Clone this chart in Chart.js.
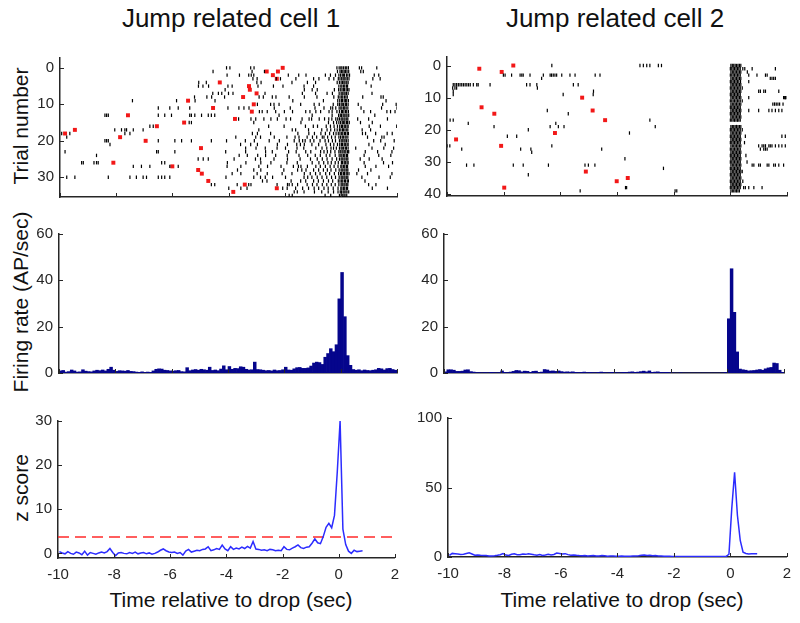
<!DOCTYPE html>
<html>
<head>
<meta charset="utf-8">
<script src="https://cdn.jsdelivr.net/npm/chart.js@4.4.1/dist/chart.umd.min.js"></script>
<style>
  body { margin: 0; background: #fff; width: 800px; height: 623px; overflow: hidden; position: relative;
         font-family: "Liberation Sans", Arial, sans-serif; }
  canvas { position: absolute; }
  .lbl { position: absolute; white-space: nowrap; color: #111; line-height: 1; }
  .ttl { font-size: 26px; top: 5px; transform: translateX(-50%); }
  .xl { font-size: 21px; top: 589px; transform: translateX(-50%); }
  .yl { font-size: 21px; left: 20px; transform: translate(-50%, -50%) rotate(-90deg); }
</style>
</head>
<body>
<div class="lbl ttl" style="left:231px">Jump related cell 1</div>
<div class="lbl ttl" style="left:615px">Jump related cell 2</div>
<div class="lbl yl" style="top:126px">Trial number</div>
<div class="lbl yl" style="top:302px">Firing rate (AP/sec)</div>
<div class="lbl yl" style="top:488px">z score</div>
<div class="lbl xl" style="left:231px">Time relative to drop (sec)</div>
<div class="lbl xl" style="left:622px">Time relative to drop (sec)</div>
<script>
// --- shared axis ticks
const xTicks = [-10, -8, -6, -4, -2, 0, 2];
const trialTicks1 = [0, 10, 20, 30];
const trialTicks2 = [0, 10, 20, 30, 40];
const rateTicks = [0, 20, 40, 60];
const zTicks1 = [0, 10, 20, 30];
const zTicks2 = [0, 50, 100];

// --- raster, cell 1: spike times (sec) per trial
const cell1Trials = [
  [-4.07,-3.95,-3.21,-3.09,-0.14,-0.06,0.0,0.04,0.1,0.16,0.21,0.27,0.66,0.74,1.28],
  [-4.55,-3.16,-2.72,-0.12,-0.03,0.02,0.07,0.12,0.17,0.22,0.28,0.71,0.8],
  [-4.05,-3.61,-3.28,-3.19,-3.1,-1.87,-1.5,-1.24,-0.55,-0.37,-0.19,-0.07,-0.01,0.05,0.09,0.13,0.2,0.25,0.31,1.19,1.35],
  [-3.13,-2.98,-2.3,-2.15,-1.6,-0.97,-0.78,-0.42,-0.25,-0.09,-0.03,0.03,0.08,0.12,0.18,0.23,0.29,1.14,1.4],
  [-5.06,-4.79,-2.99,-2.84,-1.74,-1.19,-0.9,-0.13,-0.05,0.01,0.06,0.11,0.15,0.21,0.26,0.9],
  [-5.07,-4.91,-4.71,-4.02,-3.87,-2.95,-2.4,-2.06,-1.31,-0.97,-0.07,0.0,0.04,0.1,0.14,0.2,0.24,1.08],
  [-4.12,-1.3,-1.02,-0.84,-0.23,-0.08,-0.02,0.04,0.09,0.13,0.19,0.24,0.29],
  [-4.56,-4.36,-4.24,-4.0,-3.84,-2.7,-1.37,-0.9,-0.49,-0.3,-0.06,0.01,0.05,0.11,0.15,0.2,0.26,1.11],
  [-5.21,-4.77,-4.6,-4.14,-2.91,-2.76,-2.44,-2.31,-1.84,-1.3,-0.85,-0.25,-0.09,-0.03,0.03,0.07,0.13,0.18,0.23,0.78,1.43,1.51],
  [-7.42,-5.85,-5.19,-4.48,-1.71,-0.62,-0.11,-0.04,0.02,0.06,0.12,0.17,0.21,0.27,1.61],
  [-2.97,-2.5,-2.38,-2.2,-1.43,-0.95,-0.77,-0.27,-0.11,-0.05,0.01,0.05,0.1,0.16,0.2,0.26,0.62,1.49,1.97],
  [-6.5,-6.09,-5.79,-5.38,-4.02,-3.63,-3.45,-3.27,-2.37,-1.8,-0.92,-0.6,-0.36,-0.29,-0.18,-0.06,0.0,0.04,0.1,0.14,0.19,0.25,0.72,1.45,2.0],
  [-2.9,-2.8,-2.62,-2.32,-2.01,-1.72,-1.25,-1.1,-0.89,-0.72,-0.42,-0.31,-0.14,-0.05,0.02,0.06,0.11,0.17,0.21,0.27,0.82,1.06,1.64,1.77,1.93],
  [-8.4,-8.34,-8.28,-6.5,-6.27,-6.03,-5.38,-5.32,-5.2,-4.96,-4.72,-4.61,-4.49,-2.2,-1.02,-0.31,-0.08,-0.02,0.02,0.08,0.12,0.18,0.22,0.28,1.21],
  [-3.64,-3.2,-3.03,-2.74,-2.49,-2.26,-1.95,-1.79,-1.38,-1.13,-1.04,-0.77,-0.58,-0.43,-0.32,-0.18,-0.11,-0.05,0.01,0.05,0.11,0.15,0.21,0.25,0.6,0.99,1.66],
  [-5.4,-5.32,-3.1,-1.42,-0.44,-0.26,-0.15,-0.07,-0.01,0.05,0.09,0.14,0.2,0.24,0.3,0.7,1.12],
  [-6.8,-6.68,-2.57,-2.02,-1.26,-0.98,-0.83,-0.52,-0.37,-0.24,-0.12,-0.04,0.02,0.06,0.12,0.16,0.22,0.26,1.01,1.41,1.99],
  [-8.05,-7.81,-7.69,-7.63,-7.39,-7.04,-2.92,-1.73,-1.61,-1.15,-0.68,-0.49,-0.36,-0.22,-0.13,-0.05,0.0,0.06,0.1,0.15,0.21,0.25,0.76,1.06],
  [-9.94,-9.65,-7.69,-7.51,-3.15,-2.97,-2.5,-1.53,-1.14,-0.94,-0.71,-0.55,-0.4,-0.26,-0.17,-0.09,-0.03,0.03,0.07,0.13,0.17,0.23,0.27,0.77,0.88,1.24,1.65,1.83],
  [-9.76,-3.74,-3.03,-2.86,-2.37,-1.92,-1.63,-1.49,-1.2,-1.01,-0.86,-0.66,-0.6,-0.47,-0.33,-0.2,-0.07,-0.01,0.05,0.09,0.15,0.19,0.25,0.95,1.46,1.54],
  [-8.4,-8.34,-8.28,-6.5,-5.91,-5.67,-5.32,-4.61,-4.07,-3.4,-3.08,-2.55,-2.19,-1.66,-1.48,-1.36,-1.27,-1.09,-0.96,-0.74,-0.56,-0.44,-0.3,-0.19,-0.05,0.01,0.05,0.11,0.15,0.2,0.26,1.17,1.42,1.9],
  [-8.22,-3.57,-3.21,-2.97,-2.26,-1.9,-1.57,-1.44,-1.3,-1.03,-0.79,-0.53,-0.37,-0.25,-0.12,-0.04,0.02,0.06,0.12,0.16,0.22,0.26,1.0,1.58],
  [-3.39,-3.02,-2.69,-2.27,-1.97,-1.56,-1.32,-0.89,-0.67,-0.5,-0.35,-0.26,-0.16,-0.05,0.01,0.05,0.1,0.16,0.2,0.26,0.53,1.11,1.53,1.88],
  [-9.82,-6.56,-6.5,-5.91,-4.1,-3.39,-2.68,-2.44,-1.86,-1.59,-1.25,-1.07,-0.72,-0.6,-0.48,-0.36,-0.21,-0.07,-0.02,0.04,0.08,0.14,0.18,0.24,0.28,0.87,1.31,1.82],
  [-8.7,-3.62,-3.33,-2.96,-2.68,-2.32,-1.91,-1.49,-1.18,-0.91,-0.73,-0.52,-0.39,-0.2,-0.06,0.0,0.04,0.1,0.14,0.2,0.24,0.83,1.35,1.78],
  [-5.08,-4.9,-4.72,-3.8,-3.04,-2.86,-2.38,-1.9,-1.45,-1.08,-0.84,-0.66,-0.49,-0.31,-0.15,-0.05,0.01,0.05,0.11,0.15,0.21,0.25,0.69,1.01,1.47],
  [-9.23,-9.17,-8.79,-8.7,-8.64,-6.38,-6.27,-4.04,-3.38,-2.85,-2.49,-1.92,-1.55,-1.02,-0.78,-0.61,-0.46,-0.34,-0.2,-0.09,0.02,0.06,0.12,0.16,0.22,0.26,0.83,1.52,1.84],
  [-7.39,-7.1,-6.8,-6.09,-5.79,-4.05,-3.56,-2.92,-2.61,-2.13,-1.69,-1.51,-1.42,-1.19,-0.89,-0.73,-0.55,-0.38,-0.24,-0.1,0.0,0.04,0.1,0.14,0.2,0.24,0.87,1.25,1.7],
  [-3.68,-3.1,-2.85,-2.03,-1.54,-1.39,-1.24,-0.97,-0.79,-0.62,-0.48,-0.35,-0.18,-0.06,0.01,0.05,0.11,0.15,0.21,0.25,0.63,1.07],
  [-3.87,-3.56,-2.98,-2.62,-2.09,-1.74,-1.3,-1.09,-0.9,-0.74,-0.54,-0.4,-0.23,-0.08,-0.01,0.03,0.09,0.13,0.19,0.23,0.29,0.57,0.95,1.82],
  [-9.76,-9.47,-8.28,-7.51,-7.28,-7.04,-6.92,-6.5,-6.38,-6.27,-6.09,-4.09,-3.1,-2.86,-2.69,-2.43,-1.97,-1.31,-1.18,-1.03,-0.84,-0.67,-0.5,-0.33,-0.19,-0.06,0.01,0.05,0.11,0.15,0.21,0.25,0.75,1.36,1.76],
  [-2.79,-2.63,-1.77,-1.43,-1.25,-0.97,-0.8,-0.62,-0.44,-0.29,-0.09,-0.03,0.03,0.07,0.13,0.17,0.23,0.27,0.86],
  [-4.61,-4.49,-3.69,-3.28,-3.2,-2.27,-1.9,-1.84,-1.73,-1.54,-1.2,-1.01,-0.85,-0.66,-0.5,-0.34,-0.2,-0.07,0.01,0.05,0.11,0.15,0.21,0.25,0.99,1.25],
  [-3.99,-3.56,-3.34,-2.07,-1.91,-1.61,-1.36,-1.15,-0.95,-0.79,-0.6,-0.45,-0.27,-0.1,0.0,0.04,0.1,0.14,0.2,0.24,1.12,1.66],
  [-1.66,-1.55,-1.31,-0.94,-0.68,-0.45,-0.26,-0.1,-0.02,0.02,0.08,0.12,0.18,0.22,0.28],
  [-1.84,-1.73,-0.56,-0.36,-0.05,0.01,0.05,0.11,0.15,0.21]
];
// red markers, cell 1: [trial, time]
const cell1Marks = [
  [0,-2.07],[1,-2.24],[1,-2.64],[2,-2.42],[3,-2.28],[4,-4.31],[5,-3.27],[6,-3.24],[7,-3.0],[8,-3.48],
  [9,-5.44],[10,-3.1],[11,-4.55],[12,-3.17],[13,-7.58],[14,-3.77],[15,-5.58],[16,-6.55],[17,-9.47],
  [18,-9.82],[19,-7.86],[20,-6.95],[22,-4.98],[26,-8.1],[27,-6.0],[28,-5.08],[29,-4.95],[31,-4.72],
  [32,-3.42],[33,-2.28],[34,-3.83]
];

// --- raster, cell 2
const cell2Trials = [
  [-6.3,-3.19,-3.07,-2.95,-2.84,-2.54,-2.43,0.02,0.07,0.12,0.17,0.22,0.27,0.32,0.37],
  [0.0,0.05,0.1,0.15,0.2,0.25,0.3,0.35,0.44,0.51,0.77,1.59],
  [0.02,0.07,0.12,0.17,0.22,0.27,0.32,0.37,0.6],
  [-8.01,-7.95,-7.72,-7.42,-7.36,-7.31,-7.07,-6.6,-6.36,-6.31,-6.25,-6.19,-6.13,-5.95,-5.66,-5.48,-4.77,-4.6,0.0,0.05,0.1,0.15,0.2,0.25,0.3,0.35,0.65,0.94,1.24,1.3],
  [-6.66,0.02,0.07,0.12,0.17,0.22,0.27,0.32,0.37,1.41,1.47,1.53,1.59],
  [0.0,0.05,0.1,0.15,0.2,0.25,0.3,0.36,0.65],
  [-9.78,-9.72,-9.66,-9.6,-9.54,-9.48,-9.42,-9.36,-9.3,-9.24,-9.18,-9.07,-8.95,-8.9,-8.48,-7.19,-7.07,-6.83,-5.54,-5.37,0.02,0.07,0.12,0.17,0.22,0.27,0.32,0.37],
  [-9.8,-9.72,-9.66,-6.81,0.0,0.05,0.1,0.15,0.2,0.25,0.3,0.35,0.42],
  [-9.78,-4.83,0.02,0.07,0.12,0.17,0.22,0.27,0.32,0.37,1.0,1.06,1.18,1.24,1.71],
  [-9.78,-5.9,-4.84,0.0,0.05,0.1,0.15,0.2,0.25,0.3,0.35],
  [0.02,0.07,0.12,0.17,0.22,0.27,0.32,0.37,0.65,1.88,1.92,1.94,1.96],
  [0.0,0.05,0.1,0.15,0.2,0.25,0.3,0.35,0.42],
  [0.02,0.07,0.12,0.17,0.22,0.27,0.32,0.37,1.5,1.56,1.62,1.68,1.74,1.86],
  [0.0,0.05,0.1,0.15,0.2,0.25,0.3,0.35],
  [-6.46,0.02,0.07,0.12,0.17,0.22,0.27,0.32,0.37,0.65,1.0,1.36,1.47,1.59,1.71,1.82],
  [-5.72,0.0,0.05,0.1,0.15,0.2,0.25,0.3,0.35],
  [0.02,0.07,0.12,0.17,0.22,0.27,0.32,0.37],
  [-9.89,-9.78,-2.84,0.0,0.05,0.1,0.15,0.2,0.25,0.3,0.35],
  [-9.25,-6.16],
  [-8.34,-6.36,-6.07,-5.87,-2.65,0.02,0.07,0.12,0.17,0.22,0.27,0.32,0.37],
  [-7.13,0.0,0.05,0.1,0.15,0.2,0.25,0.3,0.35,0.42],
  [-3.56,0.02,0.07,0.12,0.17,0.22,0.27,0.32,0.37],
  [-7.87,-7.54,0.0,0.05,0.1,0.15,0.2,0.25,0.3,0.35,0.53,1.82,1.94],
  [0.02,0.07,0.12,0.17,0.22,0.27,0.32,0.37],
  [0.0,0.05,0.1,0.15,0.2,0.25,0.3,0.35,0.5],
  [-10.0,-9.9,-6.3,0.02,0.07,0.12,0.17,0.22,0.27,0.32,0.37,1.0,1.12,1.18,1.24,1.36,1.41,1.47,1.59,1.71,1.82,1.94],
  [-9.48,-7.4,-7.04,-4.54,0.0,0.05,0.1,0.15,0.2,0.25,0.3,0.35,1.06,1.18,1.24,1.3],
  [-7.01,0.02,0.07,0.12,0.17,0.22,0.27,0.32,0.37],
  [0.0,0.05,0.1,0.15,0.2,0.25,0.3,0.35,0.55],
  [-3.72,0.02,0.07,0.12,0.17,0.22,0.27,0.32,0.37],
  [0.0,0.05,0.1,0.15,0.2,0.25,0.3,0.35,0.59],
  [-9.31,-9.05,-7.66,-7.31,-6.42,-5.13,-5.01,-4.78,0.02,0.07,0.12,0.17,0.22,0.27,0.32,0.37,0.77,0.83,1.0,1.06,1.3,1.36,1.53,1.59,1.71,1.88],
  [-2.36,0.0,0.05,0.1,0.15,0.2,0.25,0.3,0.35],
  [0.02,0.07,0.12,0.17,0.22,0.27,0.32,0.37,0.42],
  [-7.13,0.0,0.05,0.1,0.15,0.2,0.25,0.3,0.35],
  [0.02,0.07,0.12,0.17,0.22,0.27,0.32,0.37],
  [0.0,0.05,0.1,0.15,0.2,0.25,0.3,0.35,0.44],
  [0.02,0.07,0.12,0.17,0.22,0.27,0.32,0.37],
  [-3.66,-3.7,0.0,0.05,0.1,0.15,0.2,0.25,0.3,0.35,0.47,0.53,0.65,0.83,1.12],
  [-5.3,-1.95,-1.89,0.02,0.07,0.12,0.17,0.22,0.27,0.32]
];
const cell2Marks = [
  [0,-7.66],[1,-8.86],[2,-8.07],[10,-5.23],[13,-8.78],[14,-4.86],[15,-8.33],[17,-4.42],
  [21,-6.19],[23,-9.68],[25,-8.09],[33,-5.1],[35,-3.62],[36,-4.01],[38,-7.98]
];

// --- PSTH, 0.1 s bins starting at -10
const binStart = -10, binW = 0.1;
const rate1 = [
  0.9,1.1,0.4,0.6,1.3,0.9,0.4,0.5,1.4,0.8,
  0.6,0.5,0.9,1.2,1.0,1.3,0.9,1.6,2.5,1.2,
  0.7,1.0,0.9,0.8,1.1,0.7,0.6,0.4,0.3,0.5,
  0.2,0.4,0.3,0.9,1.6,1.8,1.7,1.2,1.1,0.9,
  0.8,1.0,1.1,0.6,0.5,2.3,1.0,1.3,1.5,1.2,
  1.6,1.4,1.2,2.5,1.1,1.3,1.0,1.7,3.1,1.4,
  2.8,1.6,2.0,1.9,2.7,2.5,1.6,1.3,1.4,4.7,
  1.5,1.4,1.2,1.0,1.1,0.9,1.3,1.0,1.1,1.4,
  2.5,1.3,1.2,1.8,2.3,2.4,2.0,2.0,2.2,3.0,
  4.3,4.7,4.5,3.7,6.8,8.4,10.5,9.2,12.2,32,
  43.4,24.3,7.5,3.3,1.5,1.2,1.4,1.0,1.3,1.1,
  1.0,1.2,1.4,2.0,1.8,1.3,1.9,2.0,1.5,1.2
];
const rate2 = [
  0.5,1.4,1.4,1.2,0.7,0.7,0.8,1.3,1.4,0.6,
  0.4,0.2,0.2,0.1,0.2,0.1,0.3,0.2,0.1,0.2,
  0.9,0.3,0.2,0.4,0.7,1.1,1.0,0.5,0.8,0.7,
  0.3,0.7,0.8,0.2,0.4,1.5,1.3,0.8,0.9,0.7,
  0.9,0.6,0.4,0.5,0.4,0.5,0.3,0.2,0.3,0.4,
  0.2,0.3,0.2,0.1,0.3,0.4,0.2,0.1,0.2,0.3,
  0.2,0.1,0.2,0.3,0.2,0.4,0.5,0.3,0.4,0.6,
  0.8,0.5,0.9,0.3,0.4,0.5,0.3,0.2,0.3,0.2,
  0.1,0,0,0.1,0,0,0,0,0,0,
  0,0,0,0,0,0,0,0,0.1,0.3,
  23.4,45,26.2,9.1,1.7,1.4,1.2,0.9,1.0,1.1,
  1.3,1.5,1.2,1.8,2.2,2.4,4.3,4.1,1.2,0.3
];

// --- z score at bin centres (-9.95, -9.85, ...)
const zStart = -9.95, zStep = 0.1;
const zscore1 = [
  0.4,0.1,-0.1,0.4,0.0,-0.2,0.3,0.1,-0.3,0.5,
  -0.4,0.2,0.0,-0.2,0.1,0.3,0.1,0.4,1.1,0.2,
  -0.5,0.1,0.2,0.0,-0.1,0.2,0.0,0.3,-0.1,0.1,
  0.2,-0.1,0.1,-0.2,0.0,0.3,0.7,1.0,0.6,0.3,
  0.2,0.3,0.0,0.2,-0.4,0.5,0.9,0.3,0.5,0.7,
  0.6,0.9,1.0,1.5,0.6,0.8,1.1,0.9,1.9,1.0,
  0.6,1.5,0.9,1.2,1.0,1.4,1.1,1.6,1.2,2.7,
  1.0,0.9,0.7,0.8,0.6,0.9,0.8,0.6,0.7,0.6,
  1.5,0.9,0.8,1.2,1.5,1.9,1.3,1.1,1.4,1.5,
  2.3,3.3,2.4,2.2,3.8,5.9,6.8,5.8,8.6,18.5,
  30,5.5,2.0,0.5,0.0,0.7,0.4,0.5,0.6
];
const zscore2 = [
  1.2,2.6,2.4,2.1,1.8,2.0,2.5,3.0,2.2,1.3,
  1.5,1.2,1.0,1.1,0.8,0.7,0.9,1.2,1.6,2.4,
  1.4,1.1,2.0,2.3,1.6,1.7,2.2,1.9,2.4,2.0,
  1.6,1.3,1.8,1.1,1.4,1.9,1.5,1.8,2.8,2.5,
  2.2,2.4,1.7,1.3,1.5,1.2,1.0,0.9,1.1,0.8,
  0.9,1.0,0.7,0.8,1.1,0.9,0.6,0.7,0.8,0.6,
  0.5,0.7,0.6,0.5,0.6,0.8,0.7,0.9,1.3,1.4,
  1.1,1.2,0.9,1.0,0.8,0.7,0.6,0.5,0.5,0.4,
  0.4,0.3,0.3,0.4,0.3,0.3,0.3,0.4,0.3,0.3,
  0.3,0.3,0.4,0.3,0.3,0.3,0.3,0.4,0.4,2.0,
  35,61,30,12,3.5,2.5,2.2,2.3,2.4,2.3
];
const zThreshold = 3.7;

// --- layout helpers
const FONT = '"Liberation Sans", Arial, sans-serif';
const AXIS_W = 60, AXIS_H = 40, PAD = 12;
const INK = '#262626';

// MATLAB style inward tick marks
const inwardTicks = {
  id: 'inwardTicks',
  afterDraw(chart) {
    const { ctx, chartArea: a, scales: { x, y } } = chart;
    ctx.save();
    ctx.strokeStyle = INK;
    ctx.lineWidth = 1;
    ctx.beginPath();
    x.ticks.forEach(t => {
      const p = Math.round(x.getPixelForValue(t.value)) + 0.5;
      ctx.moveTo(p, a.bottom); ctx.lineTo(p, a.bottom - 4);
    });
    y.ticks.forEach(t => {
      const p = Math.round(y.getPixelForValue(t.value)) + 0.5;
      ctx.moveTo(a.left, p); ctx.lineTo(a.left + 4, p);
    });
    ctx.stroke();
    ctx.restore();
  }
};

function panel(box, type, datasets, yScale, showXLabels) {
  const cv = document.createElement('canvas');
  const w = box.R - box.L + AXIS_W + PAD, h = box.B - box.T + PAD + AXIS_H;
  cv.width = w; cv.height = h;
  cv.style.left = (box.L - AXIS_W) + 'px';
  cv.style.top = (box.T - PAD) + 'px';
  cv.style.width = w + 'px'; cv.style.height = h + 'px';
  document.body.appendChild(cv);
  const tickFont = { family: FONT, size: 15 };
  return new Chart(cv, {
    type,
    data: { datasets },
    options: {
      responsive: false, animation: false, events: [],
      layout: { padding: { top: PAD, right: PAD, left: 0, bottom: 0 }, autoPadding: false },
      plugins: { legend: { display: false }, tooltip: { enabled: false } },
      scales: {
        x: {
          type: 'linear', min: -10, max: 2, offset: false,
          grid: { display: false, drawTicks: false },
          border: { display: true, color: INK, width: 1.5 },
          ticks: { display: showXLabels, autoSkip: false, font: tickFont, color: INK, padding: 8 },
          afterBuildTicks: s => { s.ticks = xTicks.map(v => ({ value: v })); },
          afterFit: s => { s.height = AXIS_H; }
        },
        y: {
          type: 'linear', min: yScale.min, max: yScale.max, reverse: !!yScale.reverse,
          grid: { display: false, drawTicks: false },
          border: { display: true, color: INK, width: 1.5 },
          ticks: { autoSkip: false, font: tickFont, color: INK, padding: 6 },
          afterBuildTicks: s => { s.ticks = yScale.ticks.map(v => ({ value: v })); },
          afterFit: s => { s.width = AXIS_W; }
        }
      }
    },
    plugins: [inwardTicks]
  });
}

function spikePoints(trials) {
  const pts = [];
  trials.forEach((times, trial) => times.forEach(t => pts.push({ x: t, y: trial })));
  return pts;
}
function markPoints(marks) {
  return marks.map(([trial, t]) => ({ x: t, y: trial }));
}
function rasterSets(trials, marks) {
  return [
    { data: spikePoints(trials), showLine: false, pointStyle: 'line', pointRotation: 90,
      pointRadius: 1.7, pointBorderWidth: 1.2, pointBorderColor: '#000' },
    { data: markPoints(marks), showLine: false, pointStyle: 'rect', pointRadius: 2.8,
      pointBorderWidth: 0, pointBackgroundColor: '#f21818' }
  ];
}
function barSet(vals) {
  return [{
    data: vals.map((v, i) => ({ x: binStart + binW * (i + 0.5), y: v })),
    backgroundColor: '#05058c', borderWidth: 0, barPercentage: 1, categoryPercentage: 1
  }];
}
function zLine(vals) {
  return {
    data: vals.map((v, i) => ({ x: zStart + zStep * i, y: v })),
    borderColor: '#2c2cff', borderWidth: 1.5, pointRadius: 0, tension: 0
  };
}

// row 1: rasters
panel({ L: 60, R: 397, T: 55, B: 197 }, 'scatter', rasterSets(cell1Trials, cell1Marks),
      { min: -2.7, max: 35.4, reverse: true, ticks: trialTicks1 }, false);
panel({ L: 447, R: 787, T: 54, B: 196 }, 'scatter', rasterSets(cell2Trials, cell2Marks),
      { min: -2.65, max: 40.6, reverse: true, ticks: trialTicks2 }, false);

// row 2: firing rate histograms
panel({ L: 59, R: 397, T: 231, B: 373 }, 'bar', barSet(rate1),
      { min: 0, max: 60, ticks: rateTicks }, false);
panel({ L: 444, R: 784, T: 231, B: 373 }, 'bar', barSet(rate2),
      { min: 0, max: 60, ticks: rateTicks }, false);

// row 3: z scores
panel({ L: 58, R: 395, T: 418, B: 558 }, 'line', [
  zLine(zscore1),
  { data: [{ x: -10, y: zThreshold }, { x: 2, y: zThreshold }], borderColor: '#ff2a2a',
    borderWidth: 1.5, borderDash: [11, 6], pointRadius: 0 }
], { min: -1.05, max: 30, ticks: zTicks1 }, true);
panel({ L: 448, R: 787, T: 415, B: 557 }, 'line', [zLine(zscore2)],
      { min: 0, max: 100, ticks: zTicks2 }, true);
</script>
</body>
</html>
